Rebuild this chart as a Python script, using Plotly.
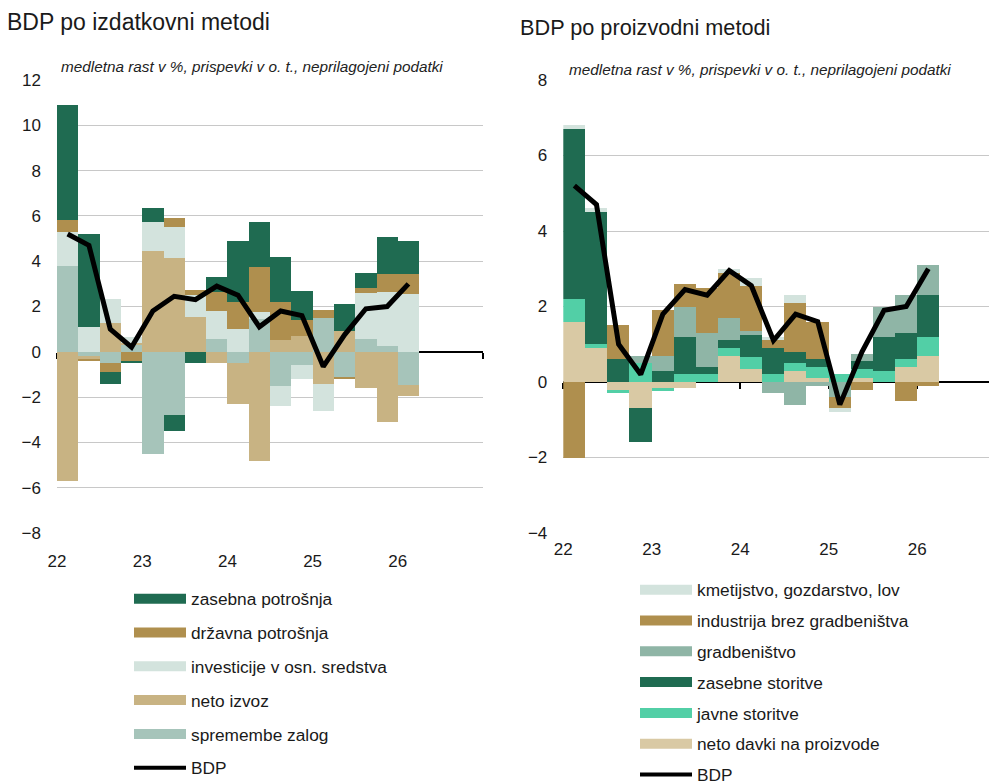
import plotly.graph_objects as go

# ---------------- data ----------------
quarters = ["2022Q1", "2022Q2", "2022Q3", "2022Q4",
            "2023Q1", "2023Q2", "2023Q3", "2023Q4",
            "2024Q1", "2024Q2", "2024Q3", "2024Q4",
            "2025Q1", "2025Q2", "2025Q3", "2025Q4",
            "2026Q1"]
year_ticks = [2022, 2023, 2024, 2025, 2026]
year_labels = ["22", "23", "24", "25", "26"]

# Left chart: expenditure method
exp_zalog = [3.8, -0.2, -0.5, 0.3, -4.5, -2.8, 0.0, 0.55, -0.5, 1.45, -1.5, -0.6, 1.5, -1.15, 0.55, 0.25, -1.45]
exp_izvoz = [-5.7, -0.1, 1.25, 0.1, 4.45, 4.15, 1.55, -0.5, -1.8, -4.8, 0.5, 0.7, -1.4, 0.9, -1.6, -3.1, -0.5]
exp_invest = [1.5, 1.1, 1.1, 0.25, 1.3, 1.35, 0.95, 1.25, 1.0, 0.3, -0.9, -0.6, -1.2, 0.0, 2.05, 2.4, 2.55]
exp_drzavna = [0.5, -0.1, -0.4, -0.4, 0.0, 0.4, 0.25, 0.85, 1.2, 2.0, 1.7, 0.7, 0.35, -0.05, 0.2, 0.8, 0.9]
exp_zasebna = [5.1, 4.1, -0.5, -0.1, 0.6, -0.7, -0.5, 0.65, 2.7, 2.0, 2.0, 1.3, 0.0, 1.2, 0.7, 1.6, 1.45]
gdp_left = [5.2, 4.7, 1.0, 0.2, 1.8, 2.45, 2.3, 2.9, 2.5, 1.1, 1.8, 1.6, -0.65, 0.75, 1.9, 2.0, 3.0]

# Right chart: production method
prod_davki = [1.6, 0.9, -0.2, -0.7, -0.15, -0.15, 0.0, 0.7, 0.35, 0.0, 0.3, 0.1, 0.0, 0.1, 0.0, 0.4, 0.7]
prod_javne = [0.6, 0.1, -0.08, 0.5, -0.1, 0.2, 0.2, 0.2, 0.3, 0.2, 0.2, 0.3, 0.2, 0.25, 0.3, 0.2, 0.5]
prod_zasebne = [4.5, 3.5, 0.6, -0.9, 0.3, 1.0, 0.2, 0.2, 0.6, 0.7, 0.3, 0.2, 0.0, 0.2, 0.9, 0.7, 1.1]
prod_gradb = [0.0, 0.0, 0.0, 0.2, 0.4, 0.8, 0.9, 0.6, 0.1, -0.3, -0.6, -0.1, -0.4, 0.2, 0.8, 1.0, 0.8]
prod_industrija = [-2.0, 0.0, 0.9, 0.0, 1.2, 0.6, 1.2, 1.2, 1.2, 0.2, 1.3, 1.0, -0.3, -0.2, 0.0, -0.5, -0.1]
prod_kmet = [0.1, 0.1, 0.0, 0.0, 0.0, 0.0, 0.0, 0.1, 0.2, 0.1, 0.2, 0.0, -0.1, 0.0, 0.0, 0.0, 0.0]
gdp_right = [5.2, 4.7, 1.0, 0.2, 1.8, 2.45, 2.3, 2.95, 2.55, 1.1, 1.8, 1.6, -0.6, 0.8, 1.9, 2.0, 3.0]

# ---------------- style ----------------
FONT = "Arial, 'Liberation Sans', sans-serif"
C_DARK = "#1f6b51"
C_BROWN = "#af8f4e"
C_LIGHT = "#d3e3dd"
C_TAN = "#c8b383"
C_TEAL = "#a6c4ba"
C_GREY = "#8fb5a6"
C_MINT = "#52cfa6"
C_BEIGE = "#d9c9a4"
GRID = "#c8c8c8"

# the page body has an 8px margin: the figure is drawn from (8, 8) to the window edge
OFF = 8
W, H = 997 - OFF, 784 - OFF
def px_x(p):
    return (p - OFF) / W
def px_y(p):
    return 1 - (p - OFF) / H

x = [int(q[:4]) + (int(q[-1]) - 0.5) / 4 for q in quarters]

fig = go.Figure()

left_series = [
    ("spremembe zalog", exp_zalog, C_TEAL),
    ("neto izvoz", exp_izvoz, C_TAN),
    ("investicije v osn. sredstva", exp_invest, C_LIGHT),
    ("državna potrošnja", exp_drzavna, C_BROWN),
    ("zasebna potrošnja", exp_zasebna, C_DARK),
]
right_series = [
    ("neto davki na proizvode", prod_davki, C_BEIGE),
    ("javne storitve", prod_javne, C_MINT),
    ("zasebne storitve", prod_zasebne, C_DARK),
    ("gradbeništvo", prod_gradb, C_GREY),
    ("industrija brez gradbeništva", prod_industrija, C_BROWN),
    ("kmetijstvo, gozdarstvo, lov", prod_kmet, C_LIGHT),
]

for name, vals, col in left_series:
    fig.add_trace(go.Bar(x=x, y=vals, width=0.25, name=name, marker=dict(color=col, line=dict(width=0)),
                         xaxis="x", yaxis="y", showlegend=False))
for name, vals, col in right_series:
    fig.add_trace(go.Bar(x=x, y=vals, width=0.25, name=name, marker=dict(color=col, line=dict(width=0)),
                         xaxis="x2", yaxis="y2", showlegend=False))

fig.add_trace(go.Scatter(x=x, y=gdp_left, mode="lines", line=dict(color="black", width=5),
                         xaxis="x3", yaxis="y", showlegend=False, name="BDP"))
fig.add_trace(go.Scatter(x=x, y=gdp_right, mode="lines", line=dict(color="black", width=5),
                         xaxis="x4", yaxis="y2", showlegend=False, name="BDP"))

# legend entries (wide swatches)
for i, (name, vals, col) in enumerate(reversed(left_series)):
    fig.add_trace(go.Scatter(x=[None], y=[None], mode="lines", line=dict(color=col, width=12),
                             name=name, legend="legend", legendgroup="L%d" % i, xaxis="x", yaxis="y"))
fig.add_trace(go.Scatter(x=[None], y=[None], mode="lines", line=dict(color="black", width=4),
                         name="BDP", legend="legend", legendgroup="L9", xaxis="x", yaxis="y"))
for i, (name, vals, col) in enumerate(reversed(right_series)):
    fig.add_trace(go.Scatter(x=[None], y=[None], mode="lines", line=dict(color=col, width=12),
                             name=name, legend="legend2", legendgroup="R%d" % i, xaxis="x2", yaxis="y2"))
fig.add_trace(go.Scatter(x=[None], y=[None], mode="lines", line=dict(color="black", width=4),
                         name="BDP", legend="legend2", legendgroup="R9", xaxis="x2", yaxis="y2"))

ydom = [px_y(533), px_y(80)]
lrange_y = [-8, 12]
rrange_y = [-4, 8]
lrange_x = [2022, 2027]
rrange_x = [2022, 2022 + (997 - 563.3) / 88.5]

def zero_pos(r):
    return ydom[0] + (0 - r[0]) / (r[1] - r[0]) * (ydom[1] - ydom[0])

tickfont = dict(family=FONT, size=17, color="#1a1a1a")

common_x = dict(showgrid=False, zeroline=False, showline=False, ticks="", automargin=False,
                tickmode="array", tickvals=year_ticks, ticktext=year_labels, tickfont=tickfont)
common_y = dict(showgrid=True, gridcolor=GRID, gridwidth=1, zeroline=False, showline=False,
                ticks="", dtick=2, tickfont=tickfont, ticklabelstandoff=15, automargin=False)
zero_axis = dict(showgrid=False, zeroline=False, showline=True, linecolor="black", linewidth=1.5,
                 ticks="outside", ticklen=6, tickwidth=1.5, tickcolor="black", automargin=False,
                 showticklabels=False, tickmode="linear", dtick=1, tick0=2022, layer="below traces")

legfont = dict(family=FONT, size=17.3, color="#1a1a1a")

fig.update_layout(
    width=W, height=H,
    margin=dict(l=0, r=0, t=0, b=0, autoexpand=False),
    paper_bgcolor="white", plot_bgcolor="white",
    barmode="relative", bargap=0,
    font=dict(family=FONT, color="#1a1a1a"),
    xaxis=dict(domain=[px_x(57), px_x(483)], range=lrange_x, anchor="y", ticklabelstandoff=16, **common_x),
    yaxis=dict(domain=ydom, range=lrange_y, anchor="x", **common_y),
    xaxis2=dict(domain=[px_x(563.3), 1.0], range=rrange_x, anchor="y2", ticklabelstandoff=4, **common_x),
    yaxis2=dict(domain=ydom, range=rrange_y, anchor="x2", **common_y),
    xaxis3=dict(overlaying="x", anchor="free", position=zero_pos(lrange_y), range=lrange_x,
                domain=[px_x(57), px_x(483)], **zero_axis),
    xaxis4=dict(overlaying="x2", anchor="free", position=zero_pos(rrange_y), range=rrange_x,
                domain=[px_x(563.3), 1.0], **zero_axis),
    legend=dict(x=px_x(129), y=px_y(581), xanchor="left", yanchor="top",
                font=legfont, itemwidth=52,
                traceorder="grouped", tracegroupgap=8.3, bgcolor="rgba(0,0,0,0)"),
    legend2=dict(x=px_x(635), y=px_y(572), xanchor="left", yanchor="top",
                 font=legfont, itemwidth=52,
                 traceorder="grouped", tracegroupgap=5.3, bgcolor="rgba(0,0,0,0)"),
    showlegend=True,
)

fig.add_annotation(text="BDP po izdatkovni metodi", xref="paper", yref="paper",
                   x=px_x(5), y=px_y(22), xanchor="left", yanchor="middle", showarrow=False,
                   font=dict(family=FONT, size=23, color="#1a1a1a"))
fig.add_annotation(text="BDP po proizvodni metodi", xref="paper", yref="paper",
                   x=px_x(518), y=px_y(27), xanchor="left", yanchor="middle", showarrow=False,
                   font=dict(family=FONT, size=21.7, color="#1a1a1a"))
sub = "<i>medletna rast v %, prispevki v o. t., neprilagojeni podatki</i>"
fig.add_annotation(text=sub, xref="paper", yref="paper",
                   x=px_x(59), y=px_y(67), xanchor="left", yanchor="middle", showarrow=False,
                   font=dict(family=FONT, size=15.3, color="#222222"))
fig.add_annotation(text=sub, xref="paper", yref="paper",
                   x=px_x(567), y=px_y(70), xanchor="left", yanchor="middle", showarrow=False,
                   font=dict(family=FONT, size=15.3, color="#222222"))

fig.write_html("out.html")
